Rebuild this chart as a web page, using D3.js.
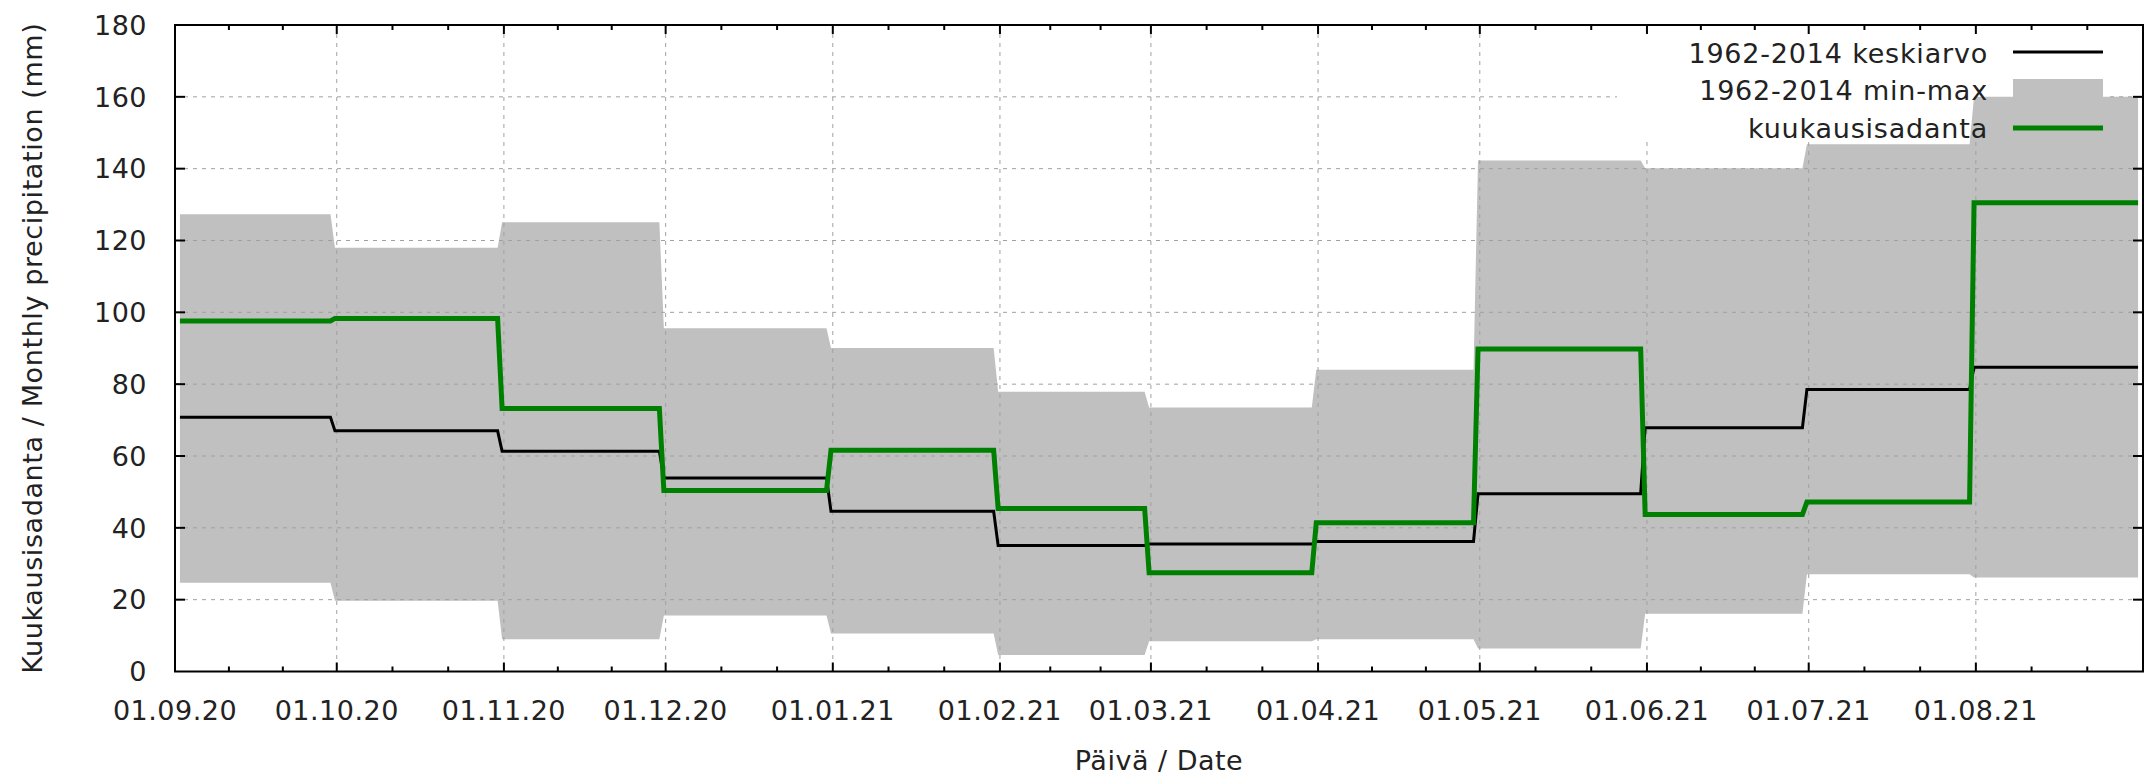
<!DOCTYPE html>
<meta charset="utf-8">

<head>
  <style>
    body {
      margin: 0;
      background: #fff;
    }

    text {
      font-family: "DejaVu Sans", sans-serif;
      fill: #222;
    }

    .grid line {
      stroke: #a0a0a0;
      stroke-width: 1px;
      stroke-dasharray: 4 5;
    }
  </style>
</head>

<body>
  <script src="https://d3js.org/d3.v7.min.js"></script>

  <div id="chart"></div>

  <script>

    // month starts and the end of the period
    var monthStarts = ["2020-09-01", "2020-10-01", "2020-11-01", "2020-12-01", "2021-01-01", "2021-02-01",
      "2021-03-01", "2021-04-01", "2021-05-01", "2021-06-01", "2021-07-01", "2021-08-01"];
    var periodEnd = "2021-09-01";

    // 1962-2014 mean, min and max, and the measured monthly precipitation (mm)
    var meanVals = [70.8, 67.0, 61.3, 53.9, 44.6, 35.1, 35.5, 36.2, 49.5, 67.9, 78.5, 84.7];
    var minVals = [24.7, 19.7, 9.0, 15.6, 10.6, 4.6, 8.4, 9.0, 6.4, 16.1, 27.1, 26.2];
    var maxVals = [127.3, 118.0, 125.1, 95.6, 90.1, 77.9, 73.5, 84.0, 142.3, 140.1, 146.8, 160.0];
    var monthlyVals = [97.6, 98.3, 73.2, 50.4, 61.6, 45.4, 27.5, 41.4, 89.8, 43.7, 47.2, 130.5];

    var yTicks = [0, 20, 40, 60, 80, 100, 120, 140, 160, 180];
    var legendLabels = ["1962-2014 keskiarvo", "1962-2014 min-max", "kuukausisadanta"];

    var width = 2147,
      height = 775;
    var plotL = 175, plotR = 2143, plotT = 25, plotB = 671.5;

    var parse = d3.utcParse("%Y-%m-%d");
    var starts = monthStarts.map(parse);
    var end = parse(periodEnd);

    var x = d3.scaleUtc().domain([starts[0], end]).range([plotL, plotR]);
    var y = d3.scaleLinear().domain([0, 180]).range([plotB, plotT]);

    var svg = d3.select('#chart')
      .append('svg')
      .attr('width', width)
      .attr('height', height);

    // step series: flat over each month, short slanted change just before the next month
    function stepRows(i) {
      var s = i === 0 ? d3.utcHour.offset(starts[0], 22) : d3.utcHour.offset(starts[i], -8);
      var e = i < starts.length - 1 ? d3.utcHour.offset(starts[i + 1], -28) : d3.utcHour.offset(end, -22);
      return [s, e];
    }
    var rows = [];
    starts.forEach((d, i) => {
      stepRows(i).forEach(t => {
        rows.push({ date: t, mean: meanVals[i], min: minVals[i], max: maxVals[i], monthly: monthlyVals[i] });
      });
    });

    // min-max band
    var area = d3.area()
      .x(d => x(d.date))
      .y0(d => y(d.min))
      .y1(d => y(d.max));
    svg.append('path')
      .datum(rows)
      .attr('d', area)
      .attr('fill', '#c0c0c0');

    // grid, hidden under the key
    var defs = svg.append('defs');
    var mask = defs.append('mask').attr('id', 'keymask')
      .attr('maskUnits', 'userSpaceOnUse')
      .attr('x', 0).attr('y', 0).attr('width', width).attr('height', height);
    mask.append('rect').attr('x', 0).attr('y', 0).attr('width', width).attr('height', height).attr('fill', '#fff');
    mask.append('rect').attr('x', 1617).attr('y', plotT).attr('width', 493).attr('height', 115).attr('fill', '#000');

    var grid = svg.append('g').attr('class', 'grid').attr('mask', 'url(#keymask)');
    grid.selectAll('.gy')
      .data(yTicks.slice(1, -1))
      .enter()
      .append('line')
      .attr('x1', plotL).attr('x2', plotR)
      .attr('y1', d => y(d)).attr('y2', d => y(d));
    grid.selectAll('.gx')
      .data(starts)
      .enter()
      .append('line')
      .attr('x1', d => x(d)).attr('x2', d => x(d))
      .attr('y1', plotT).attr('y2', plotB);

    // mean and monthly lines
    var meanLine = d3.line().x(d => x(d.date)).y(d => y(d.mean));
    var monthlyLine = d3.line().x(d => x(d.date)).y(d => y(d.monthly));
    svg.append('path')
      .datum(rows)
      .attr('d', meanLine)
      .attr('fill', 'none')
      .attr('stroke', '#000')
      .attr('stroke-width', 3);
    svg.append('path')
      .datum(rows)
      .attr('d', monthlyLine)
      .attr('fill', 'none')
      .attr('stroke', '#008000')
      .attr('stroke-width', 5);

    // border
    svg.append('rect')
      .attr('x', plotL).attr('y', plotT)
      .attr('width', plotR - plotL).attr('height', plotB - plotT)
      .attr('fill', 'none')
      .attr('stroke', '#000')
      .attr('stroke-width', 2);

    // ticks, inward and mirrored
    var minorTicks = [];
    starts.forEach((d, i) => {
      var next = i < starts.length - 1 ? starts[i + 1] : end;
      var len = next - d;
      minorTicks.push(new Date(+d + len / 3), new Date(+d + 2 * len / 3));
    });
    var ticks = svg.append('g').attr('stroke', '#000').attr('stroke-width', 2);
    [[plotB, -1], [plotT, 1]].forEach(([y0, dir]) => {
      ticks.append('g').selectAll('line')
        .data(starts.slice(1))
        .enter()
        .append('line')
        .attr('x1', d => x(d)).attr('x2', d => x(d))
        .attr('y1', y0).attr('y2', y0 + dir * 9);
      ticks.append('g').selectAll('line')
        .data(minorTicks)
        .enter()
        .append('line')
        .attr('x1', d => x(d)).attr('x2', d => x(d))
        .attr('y1', y0).attr('y2', y0 + dir * 5);
    });
    [[plotL, 1], [plotR, -1]].forEach(([x0, dir]) => {
      ticks.append('g').selectAll('line')
        .data(yTicks.slice(1, -1))
        .enter()
        .append('line')
        .attr('x1', x0).attr('x2', x0 + dir * 10)
        .attr('y1', d => y(d)).attr('y2', d => y(d));
    });

    // tick labels
    var fmt = d3.utcFormat("%d.%m.%y");
    svg.append('g').selectAll('text')
      .data(starts)
      .enter()
      .append('text')
      .attr('x', d => x(d))
      .attr('y', 720)
      .attr('text-anchor', 'middle')
      .style('font-size', '27px')
      .style('letter-spacing', '0.5px')
      .text(d => fmt(d));
    svg.append('g').selectAll('text')
      .data(yTicks)
      .enter()
      .append('text')
      .attr('x', 147)
      .attr('y', d => y(d))
      .attr('dy', '0.36em')
      .attr('text-anchor', 'end')
      .style('font-size', '27px')
      .style('letter-spacing', '0.5px')
      .text(d => d);

    // axis titles
    svg.append('text')
      .attr('transform', 'translate(42,' + ((plotT + plotB) / 2) + ') rotate(-90)')
      .attr('text-anchor', 'middle')
      .style('font-size', '27px')
      .style('letter-spacing', '0.6px')
      .text('Kuukausisadanta / Monthly precipitation (mm)');
    svg.append('text')
      .attr('x', (plotL + plotR) / 2)
      .attr('y', 770)
      .attr('text-anchor', 'middle')
      .style('font-size', '27px')
      .style('letter-spacing', '0.5px')
      .text('Päivä / Date');

    // key
    var keyY = [63, 100, 138];
    var key = svg.append('g');
    key.selectAll('text')
      .data(legendLabels)
      .enter()
      .append('text')
      .attr('x', 1988)
      .attr('y', (d, i) => keyY[i])
      .attr('text-anchor', 'end')
      .style('font-size', '27px')
      .style('letter-spacing', '0.8px')
      .text(d => d);
    key.append('line')
      .attr('x1', 2013).attr('x2', 2103)
      .attr('y1', keyY[0] - 11).attr('y2', keyY[0] - 11)
      .attr('stroke', '#000').attr('stroke-width', 3);
    key.append('rect')
      .attr('x', 2013).attr('y', keyY[1] - 21)
      .attr('width', 90).attr('height', 21)
      .attr('fill', '#c0c0c0');
    key.append('line')
      .attr('x1', 2013).attr('x2', 2103)
      .attr('y1', keyY[2] - 10).attr('y2', keyY[2] - 10)
      .attr('stroke', '#008000').attr('stroke-width', 5);
  </script>
</body>
